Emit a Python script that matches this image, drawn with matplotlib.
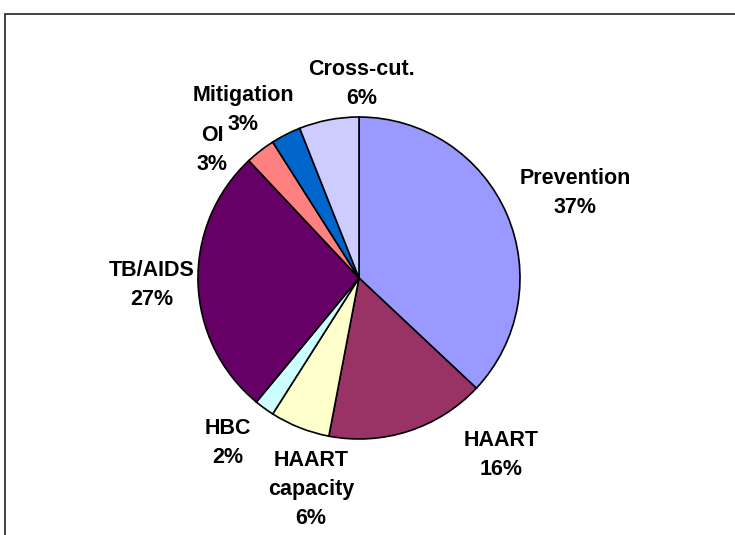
import matplotlib
matplotlib.use("Agg")
import matplotlib.pyplot as plt
from matplotlib.patches import Rectangle

# data
categories = ["Prevention", "HAART", "HAART\ncapacity", "HBC", "TB/AIDS", "OI", "Mitigation", "Cross-cut."]
shares = [37, 16, 6, 2, 27, 3, 3, 6]
colors = ["#9999FF", "#993366", "#FFFFCC", "#CCFFFF", "#660066", "#FF8080", "#0066CC", "#CCCCFF"]

# label placement in pixels (x, y from top)
label_pos = [(575, 193), (501, 455), (311, 490), (228, 443), (152, 285), (212, 150), (243, 110), (362, 84)]
line_pitch = 29

W, H = 735, 535
fig = plt.figure(figsize=(W / 100, H / 100), dpi=100)
ax = fig.add_axes([0, 0, 1, 1])
ax.set_xlim(0, W)
ax.set_ylim(0, H)
ax.set_aspect("equal")
ax.axis("off")

ax.pie(shares, colors=colors, startangle=90, counterclock=False,
       center=(359, H - 278), radius=161,
       wedgeprops=dict(edgecolor="black", linewidth=1.2))
ax.set_xlim(0, W)
ax.set_ylim(0, H)

# one text per line so the label boxes stay tight
for name, val, (x, y) in zip(categories, shares, label_pos):
    lines = name.split("\n") + [f"{val}%"]
    y0 = y - (len(lines) - 1) / 2 * line_pitch
    for i, line in enumerate(lines):
        ax.text(x, H - (y0 + i * line_pitch), line, ha="center", va="center",
                fontsize=15.5, fontweight="bold", family="Liberation Sans")

# chart frame
fig.patches.append(Rectangle((5 / W, -0.1), 1.2, (H - 14) / H + 0.1,
                             transform=fig.transFigure, fill=False,
                             edgecolor="#222222", linewidth=1.2))

fig.savefig("out.png", dpi=100)
